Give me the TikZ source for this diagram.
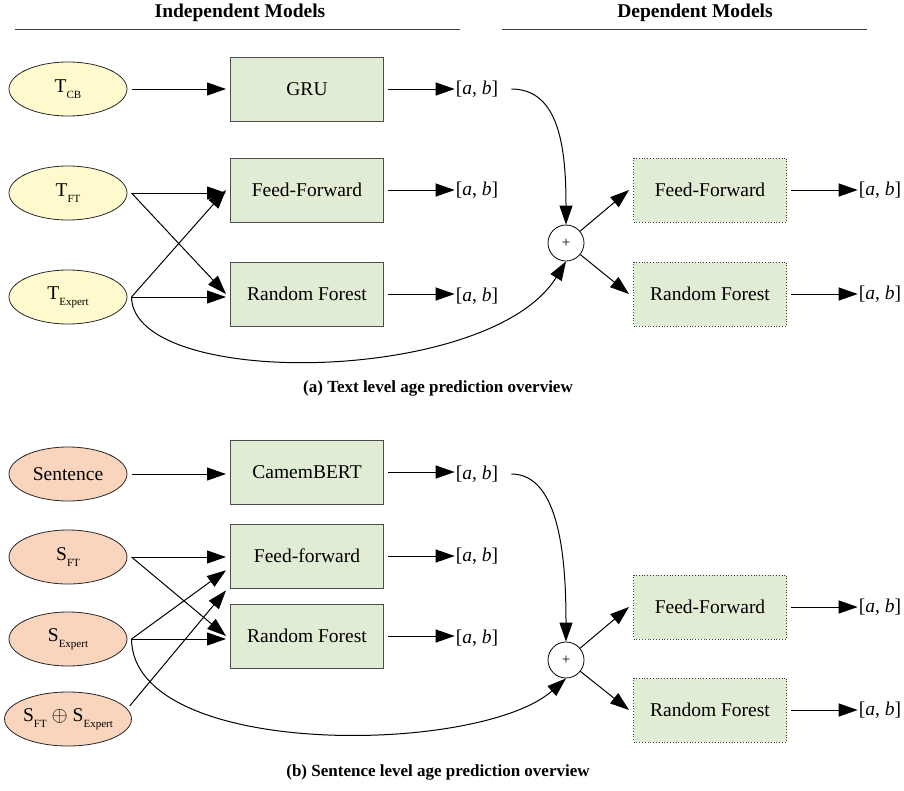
\documentclass[tikz,border=0pt]{standalone}
\usepackage{fontspec}
\setmainfont{Liberation Serif}
\usetikzlibrary{arrows.meta,shapes.geometric}
\definecolor{yel}{HTML}{FFFACD}
\definecolor{sal}{HTML}{FAD5BE}
\definecolor{grn}{HTML}{E0EDD4}
\newcommand\mysub[1]{\raisebox{-6pt}{\fontsize{11}{11}\selectfont #1}}
\newcommand\abtext{[\textit{a}, \textit{b}]}
\begin{document}
\begin{tikzpicture}[x=1pt,y=-1pt,
  font=\fontsize{19.5}{22}\selectfont,
  inp/.style={ellipse,draw=black!85,line width=0.8pt,minimum width=118pt,minimum height=54pt,inner sep=0pt,outer sep=4.5pt},
  model/.style={rectangle,draw=black!70,line width=0.8pt,fill=grn,minimum width=153pt,minimum height=64pt,outer sep=4.5pt},
  dmodel/.style={model,dotted,draw=black!75},
  outp/.style={inner sep=1pt},
  sumnode/.style={circle,draw=black,line width=0.8pt,minimum size=36pt,inner sep=0pt,font=\fontsize{15}{15}\selectfont},
  conn/.style={line width=1pt,-{Triangle[length=19pt,width=13pt]}},
  hdr/.style={font=\fontsize{19.5}{22}\selectfont\bfseries},
  captext/.style={font=\fontsize{17}{20}\selectfont\bfseries},
  hrule/.style={line width=1pt,draw=black!75}]
\useasboundingbox (0,0) rectangle (904,790);

% headers
\node[hdr] (h1) at (240,13) {Independent Models};
\node[hdr] (h2) at (695,13) {Dependent Models};
\coordinate (l1a) at (15,29); \coordinate (l1b) at (460,29);
\coordinate (l2a) at (502,29); \coordinate (l2b) at (867,29);
\draw[hrule] (l1a) -- (l1b);
\draw[hrule] (l2a) -- (l2b);

% ---------------- (a) ----------------
\node[inp,fill=yel] (tcb) at (68,89) {T\mysub{CB}};
\node[inp,fill=yel] (tft) at (68,193) {T\mysub{FT}};
\node[inp,fill=yel] (texp) at (68,297) {T\mysub{Expert}};

\node[model] (gru) at (307,89) {GRU};
\node[model] (ffa) at (307,190) {Feed-Forward};
\node[model] (rfa) at (307,294) {Random Forest};

\node[outp] (oa1) at (477,89) {\abtext};
\node[outp] (oa2) at (477,190) {\abtext};
\node[outp] (oa3) at (477,296) {\abtext};

\node[sumnode] (suma) at (566,243) {+};

\node[dmodel] (dffa) at (710,190) {Feed-Forward};
\node[dmodel] (drfa) at (710,294) {Random Forest};

\node[outp] (doa1) at (880,190) {\abtext};
\node[outp] (doa2) at (880,294) {\abtext};

\draw[conn] (tcb.east) -- (tcb.east -| gru.west);
\draw[conn] (tft.east) -- (tft.east -| ffa.west);
\draw[conn] (tft.east) -- (rfa.west);
\draw[conn] (texp.east) -- (ffa.west);
\draw[conn] (texp.east) -- (texp.east -| rfa.west);

\draw[conn] (gru.east) -- (gru.east -| oa1.west);
\draw[conn] (ffa.east) -- (ffa.east -| oa2.west);
\draw[conn] (rfa.east) -- (rfa.east -| oa3.west);

\coordinate (oa1s) at ([xshift=12pt]oa1.east);
\draw[conn] (oa1s) .. controls (560,89) and (566,150) .. (suma.north);
\draw[conn] (texp.east) .. controls (133,390) and (490,385) .. (suma.south);

\draw[conn] (suma) -- (dffa.west);
\draw[conn] (suma) -- (drfa.west);
\draw[conn] (dffa.east) -- (dffa.east -| doa1.west);
\draw[conn] (drfa.east) -- (drfa.east -| doa2.west);

\node[captext] (capa) at (438,388) {(a) Text level age prediction overview};

% ---------------- (b) ----------------
\node[inp,fill=sal] (sen) at (68,474) {Sentence};
\node[inp,fill=sal] (sft) at (68,557) {S\mysub{FT}};
\node[inp,fill=sal] (sexp) at (68,639) {S\mysub{Expert}};
\node[inp,fill=sal] (scomb) at (68,719) {S\mysub{FT} $\oplus$ S\mysub{Expert}};

\node[model] (cam) at (307,472) {CamemBERT};
\node[model] (ffb) at (307,556) {Feed-forward};
\node[model] (rfb) at (307,636) {Random Forest};

\node[outp] (ob1) at (477,474) {\abtext};
\node[outp] (ob2) at (477,556) {\abtext};
\node[outp] (ob3) at (477,638) {\abtext};

\node[sumnode] (sumb) at (566,660) {+};

\node[dmodel] (dffb) at (710,607) {Feed-Forward};
\node[dmodel] (drfb) at (710,710) {Random Forest};

\node[outp] (dob1) at (880,607) {\abtext};
\node[outp] (dob2) at (880,710) {\abtext};

\draw[conn] (sen.east) -- (sen.east -| cam.west);
\draw[conn] (sft.east) -- (sft.east -| ffb.west);
\draw[conn] (sft.east) -- (rfb.west);
\draw[conn] (sexp.east) -- (ffb.190);
\draw[conn] (sexp.east) -- (sexp.east -| rfb.west);
\draw[conn] (scomb.12) -- (ffb.203);

\draw[conn] (cam.east) -- (cam.east -| ob1.west);
\draw[conn] (ffb.east) -- (ffb.east -| ob2.west);
\draw[conn] (rfb.east) -- (rfb.east -| ob3.west);

\coordinate (ob1s) at ([xshift=12pt]ob1.east);
\draw[conn] (ob1s) .. controls (560,474) and (566,560) .. (sumb.north);
\draw[conn] (sexp.east) .. controls (133,760) and (480,755) .. (sumb.south);

\draw[conn] (sumb) -- (dffb.west);
\draw[conn] (sumb) -- (drfb.west);
\draw[conn] (dffb.east) -- (dffb.east -| dob1.west);
\draw[conn] (drfb.east) -- (drfb.east -| dob2.west);

\node[captext] (capb) at (438,772) {(b) Sentence level age prediction overview};
\end{tikzpicture}
\end{document}
